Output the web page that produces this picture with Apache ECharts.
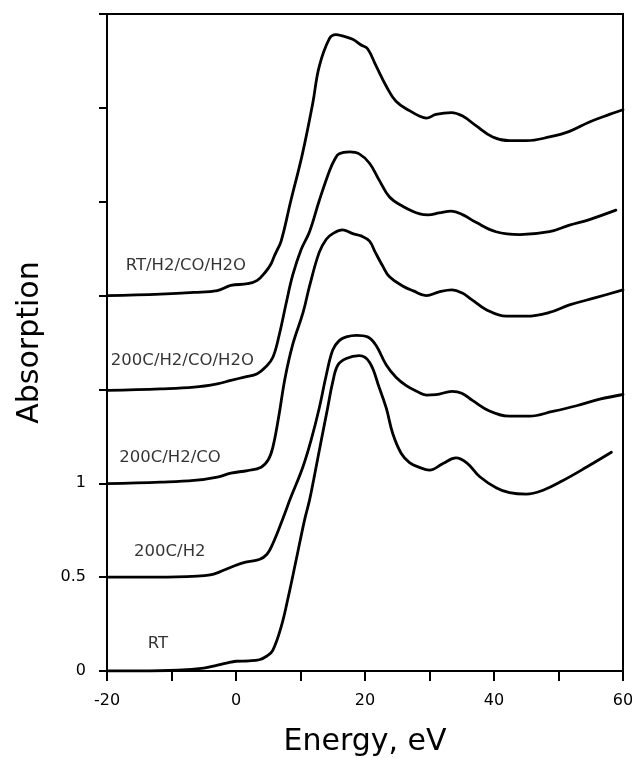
<!DOCTYPE html>
<html>
<head>
<meta charset="utf-8">
<script src="https://cdn.jsdelivr.net/npm/echarts@6/dist/echarts.min.js"></script>
<style>html,body{margin:0;padding:0;background:#fff}#c{width:632px;height:758px}</style>
</head>
<body>
<div id="c"></div>
<script>
// Energy (eV), Absorption pairs
const rt = [[-20,0.0],[-15,0.0],[-9,0.004],[-5,0.015],[-3,0.03],[-1.5,0.042],[0,0.052],[2,0.054],[3.6,0.06],[4.8,0.08],[5.7,0.11],[7,0.235],[8,0.378],[9.3,0.587],[10.6,0.80],[11.4,0.91],[12.1,1.03],[13.2,1.225],[14.2,1.40],[15.0,1.54],[15.8,1.63],[17.1,1.665],[19.1,1.68],[20.7,1.645],[22.2,1.51],[23.3,1.40],[24.3,1.265],[25.6,1.16],[26.9,1.11],[28.4,1.085],[30,1.07],[32.1,1.105],[34.1,1.135],[35.9,1.105],[37.8,1.035],[40.4,0.975],[42.4,0.95],[45,0.942],[47.6,0.963],[50.7,1.015],[54.3,1.085],[58.2,1.165]];
const c200H2 = [[-20,0.5],[-12,0.5],[-6,0.505],[-4,0.512],[-2.6,0.527],[-0.5,0.557],[1.5,0.58],[3.6,0.594],[4.8,0.622],[5.7,0.678],[7.2,0.806],[8.5,0.925],[10.3,1.08],[11.6,1.225],[12.9,1.40],[14.0,1.577],[15.0,1.71],[16.0,1.76],[17.1,1.78],[18.7,1.788],[20.4,1.78],[21.7,1.735],[23.3,1.63],[24.8,1.565],[26.4,1.52],[28.0,1.49],[29.5,1.47],[31.0,1.472],[33.5,1.49],[35.0,1.48],[36.7,1.44],[39.3,1.385],[42.4,1.358],[45.5,1.358],[49.1,1.383],[52.8,1.413],[56.4,1.448],[60,1.473]];
const c200H2CO = [[-20,0.998],[-11.7,1.006],[-6.5,1.015],[-2.9,1.033],[-0.8,1.054],[1.8,1.068],[3.9,1.086],[5.0,1.125],[5.7,1.19],[6.6,1.35],[7.6,1.56],[8.8,1.74],[10.4,1.91],[11.4,2.05],[12.9,2.23],[14.0,2.30],[15.0,2.33],[16.5,2.35],[18.1,2.33],[19.4,2.318],[20.7,2.29],[21.6,2.23],[22.7,2.16],[23.8,2.10],[25.9,2.05],[27.5,2.025],[29.5,2.0],[31.5,2.02],[33.5,2.03],[35.0,2.015],[36.5,1.98],[38.8,1.925],[41.9,1.89],[45.0,1.89],[48.6,1.91],[51.7,1.95],[55.9,1.99],[60,2.03]];
const c200H2COH2O = [[-20,1.495],[-11.7,1.503],[-6.5,1.512],[-2.9,1.53],[-0.8,1.548],[1.3,1.566],[3.3,1.584],[4.6,1.62],[5.7,1.67],[6.7,1.79],[7.75,1.955],[8.8,2.11],[10.1,2.245],[11.4,2.34],[12.9,2.505],[14.5,2.665],[15.3,2.725],[16.0,2.755],[17.6,2.765],[19.1,2.755],[20.7,2.705],[22.2,2.615],[23.8,2.525],[25.9,2.475],[28.5,2.435],[29.8,2.43],[31.5,2.44],[33.4,2.45],[35.2,2.43],[37.2,2.39],[40.3,2.34],[44.0,2.325],[48.6,2.34],[51.7,2.375],[54.8,2.405],[58.9,2.455]];
const cRTH2COH2O = [[-20,2.0],[-11.7,2.008],[-6.5,2.017],[-2.9,2.027],[-0.8,2.054],[1.8,2.063],[3.3,2.081],[4.6,2.127],[5.4,2.167],[5.9,2.207],[6.3,2.237],[7.0,2.29],[8.5,2.505],[10.3,2.755],[11.9,3.025],[12.9,3.22],[14.5,3.37],[15.5,3.39],[16.3,3.385],[18.1,3.365],[19.4,3.335],[20.4,3.315],[21.7,3.225],[23.3,3.115],[24.8,3.035],[26.9,2.985],[28.5,2.955],[29.5,2.945],[31.0,2.965],[33.4,2.975],[35.2,2.955],[37.2,2.905],[39.8,2.845],[42.4,2.825],[45.0,2.825],[48.6,2.845],[51.7,2.875],[54.8,2.925],[57.9,2.965],[60,2.99]];

const seriesNames = ['RT','200C/H2','200C/H2/CO','200C/H2/CO/H2O','RT/H2/CO/H2O'];
const labelX = [-13.7,-15.8,-18.1,-19.4,-17.1];
const labelY = [0.146,0.634,1.136,1.655,2.157];
const xTickLabels = ['-20','0','20','40','60'];
const yTickLabels = ['0','0.5','1'];

const curves = [rt, c200H2, c200H2CO, c200H2COH2O, cRTH2COH2O];
const FONT = 'DejaVu Sans';

const chart = echarts.init(document.getElementById('c'), null, {renderer:'canvas'});
const series = curves.map((d,i)=>({
  name: seriesNames[i], type:'line', data:d, showSymbol:false, symbol:'none',
  smooth:0.4,
  lineStyle:{color:'#000', width:2.8, join:'round', cap:'round'}, z:3, silent:true, animation:false
}));
series.push({
  type:'scatter', symbolSize:0, animation:false, silent:true,
  data: seriesNames.map((n,i)=>({name:n, value:[labelX[i], labelY[i]]})),
  label:{show:true, position:'right', distance:0, formatter:p=>p.name,
    color:'#000', fontFamily:FONT, fontSize:16.5}
});

chart.setOption({
  animation:false,
  backgroundColor:'#fff',
  grid:{left:107, right:9, top:14, bottom:87, outerBoundsMode:'none', containLabel:false,
    show:true, borderColor:'#000', borderWidth:2, backgroundColor:'transparent'},
  xAxis:{
    type:'value', min:-20, max:60, interval:10,
    name:'Energy, eV', nameLocation:'middle', nameGap:56,
    nameTextStyle:{fontFamily:FONT, fontSize:30, color:'#000'},
    axisLine:{show:true, onZero:false, lineStyle:{color:'#000', width:2}},
    axisTick:{show:true, inside:false, length:10, lineStyle:{color:'#000', width:2}},
    axisLabel:{margin:22, color:'#000', fontFamily:FONT, fontSize:16,
      formatter:v=>{const s=String(v); return xTickLabels.indexOf(s)>=0?s:'';}},
    splitLine:{show:false}
  },
  yAxis:{
    type:'value', min:0, max:3.5, interval:0.5,
    name:'Absorption', nameLocation:'middle', nameGap:62,
    nameTextStyle:{fontFamily:FONT, fontSize:30, color:'#000'},
    axisLine:{show:true, onZero:false, lineStyle:{color:'#000', width:2}},
    axisTick:{show:true, inside:false, length:8, lineStyle:{color:'#000', width:2}},
    axisLabel:{margin:21, color:'#000', fontFamily:FONT, fontSize:16,
      formatter:v=>{const s=String(v); return yTickLabels.indexOf(s)>=0?s:'';}},
    splitLine:{show:false}
  },
  series:series
});
</script>
</body>
</html>
